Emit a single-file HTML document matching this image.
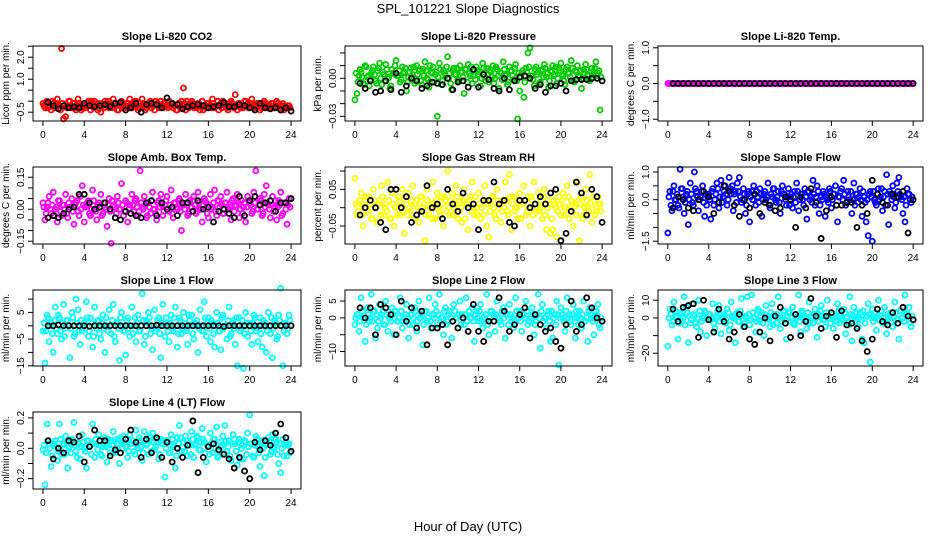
<!DOCTYPE html>
<html><head><meta charset="utf-8"><style>
html,body{margin:0;padding:0;background:#fff;}
svg{display:block;font-family:"Liberation Sans",Arial,sans-serif;}
</style></head><body>
<svg id="chart" width="936" height="540" viewBox="0 0 936 540" xmlns="http://www.w3.org/2000/svg">
<rect width="936" height="540" fill="#fff"/>
<text x="468" y="13" text-anchor="middle" font-size="13">SPL_101221  Slope Diagnostics</text>
<text x="468" y="531" text-anchor="middle" font-size="13">Hour of Day (UTC)</text>
</svg>
<script>
// x axis
const xTickLabels = [0,4,8,12,16,20,24];
const colorStepHours = 0.2;   // hours between colored samples
const blackStepHours = 0.5;   // hours between black samples

const co2Color = [-0.1,-0.3,0.0,-0.2,-0.4,-0.1,-0.2,0.1,-0.3,2.4,-0.8,-0.7,-0.2,0.0,-0.3,-0.1,-0.4,0.1,-0.2,-0.3,
-0.1,-0.2,0.0,-0.4,-0.2,0.0,-0.1,-0.3,-0.5,-0.2,0.0,-0.1,-0.3,-0.2,0.1,-0.2,-0.4,-0.1,0.0,-0.3,
-0.2,-0.1,0.1,-0.3,-0.2,0.0,-0.4,-0.1,0.1,-0.2,-0.3,-0.1,0.0,-0.2,-0.4,-0.1,-0.2,0.0,-0.3,-0.1,
-0.2,0.0,-0.1,-0.3,-0.2,-0.4,-0.1,0.0,0.6,-0.4,-0.2,-0.1,0.0,-0.3,-0.2,-0.1,-0.4,0.0,-0.2,-0.3,
-0.1,-0.2,0.1,-0.3,-0.2,-0.4,-0.1,0.0,-0.2,-0.3,-0.1,0.0,-0.2,0.3,-0.4,-0.1,-0.2,-0.3,0.0,-0.1,
-0.2,0.1,-0.3,-0.2,-0.1,-0.4,-0.2,0.0,-0.1,-0.3,-0.2,-0.1,-0.3,0.0,-0.2,-0.4,-0.1,-0.2,-0.3,-0.2];
const co2ColorB = [-0.2,-0.1,-0.3,-0.2,0.0,-0.3,-0.1,-0.2,-0.4,-0.1,-0.2,-0.3,0.0,-0.2,-0.1,-0.3,-0.2,-0.1,-0.4,-0.2,
-0.3,-0.1,-0.2,0.0,-0.3,-0.2,-0.4,-0.1,-0.2,-0.3,-0.1,0.0,-0.2,-0.3,-0.1,-0.2,-0.4,-0.2,-0.1,-0.3,
-0.1,-0.3,-0.2,-0.1,0.0,-0.2,-0.3,-0.2,-0.1,-0.4,-0.2,-0.1,-0.3,-0.2,0.0,-0.1,-0.3,-0.2,-0.1,-0.2,
-0.3,-0.2,-0.1,-0.2,-0.4,-0.1,-0.3,-0.2,-0.1,0.0,-0.3,-0.2,-0.1,-0.2,-0.3,-0.1,-0.2,-0.4,-0.2,-0.1,
-0.2,-0.3,-0.1,-0.2,0.0,-0.2,-0.3,-0.1,-0.2,-0.4,-0.2,-0.1,-0.3,-0.2,-0.1,-0.3,-0.2,0.0,-0.2,-0.3,
-0.1,-0.2,-0.3,-0.1,-0.2,-0.3,-0.1,-0.2,-0.3,-0.2,-0.1,-0.3,-0.2,-0.1,-0.3,-0.2,-0.4,-0.3,-0.2,-0.3];
const co2Black = [-0.05,-0.2,-0.35,-0.2,-0.3,-0.25,-0.3,-0.1,-0.2,-0.25,-0.2,-0.15,-0.25,-0.1,-0.05,-0.4,-0.3,-0.1,-0.5,-0.15,-0.1,-0.15,-0.3,0.15,-0.1,-0.15,-0.35,-0.25,-0.2,-0.15,-0.2,-0.3,-0.25,-0.2,-0.05,-0.25,-0.25,-0.15,-0.2,-0.3,-0.4,-0.1,-0.3,-0.35,-0.3,-0.4,-0.3,-0.45];

const presColor = [-.017,-.012,.002,.005,-.004,.010,.001,-.006,.004,.009,-.002,.006,.012,-.005,.003,.011,.000,-.008,.007,.004,
.014,.002,-.003,.009,.005,-.010,.001,.008,.003,-.004,.010,.006,-.002,.007,.013,.000,-.007,.005,.009,.003,
-.030,.012,-.005,.006,.002,.017,.004,-.009,.008,.003,-.001,.010,.005,-.012,.007,.011,.002,-.004,.006,.009,
.003,-.006,.012,.001,.008,-.003,.005,.010,.000,.007,-.008,.004,.013,.002,-.005,.009,.006,-.001,.011,-.032,
-.010,.004,-.015,.008,.020,.024,.002,-.006,.009,.005,-.003,.007,.011,.001,-.007,.006,.010,.003,-.004,.008,
.012,.002,-.005,.009,.004,.014,-.002,.006,.010,.001,-.008,.007,.011,.003,-.002,.008,.005,.013,.004,-.025];
const presColorB = [.004,-.003,.007,.001,-.005,.009,.002,-.001,.006,.003,-.004,.008,.000,.005,-.002,.007,.001,-.006,.004,.010,
.002,.006,-.001,.004,.008,-.003,.005,.001,.009,-.002,.003,.007,-.005,.002,.006,-.001,.010,.004,-.003,.005,
.001,.007,-.002,.004,.009,.000,-.004,.006,.003,.008,-.002,.005,.001,.007,-.003,.004,.009,.002,-.001,.006,
.005,.000,.008,-.002,.003,.006,.001,-.004,.009,.002,.005,-.001,.007,.003,-.003,.006,.002,.008,-.002,.004,
.001,.006,-.003,.005,.009,.002,-.001,.007,.003,-.004,.006,.001,.008,.004,-.002,.005,.002,.009,.000,.006,
.003,-.002,.007,.004,.001,.008,-.003,.005,.002,.006,.000,.004,.007,-.001,.005,.003,.008,.002,.006,.001];
const presBlack = [-.004,-.008,-.002,-.011,-.010,-.002,-.009,.004,-.011,-.006,.000,-.002,-.008,-.006,-.003,-.004,-.005,.000,-.009,-.003,-.002,-.007,.007,-.007,.003,-.001,-.008,-.010,.000,-.009,-.002,.001,.002,.000,-.008,-.005,-.011,-.006,-.006,-.004,-.010,-.002,-.001,-.001,-.001,.000,.000,-.002];

const tempColor = [0,0,0,0,0,0,0,0,0,0,0,0,0,0,0,0,0,0,0,0,0,0,0,0,0,0,0,0,0,0,0,0,0,0,0,0,0,0,0,0,
0,0,0,0,0,0,0,0,0,0,0,0,0,0,0,0,0,0,0,0,0,0,0,0,0,0,0,0,0,0,0,0,0,0,0,0,0,0,0,0,
0,0,0,0,0,0,0,0,0,0,0,0,0,0,0,0,0,0,0,0,0,0,0,0,0,0,0,0,0,0,0,0,0,0,0,0,0,0,0,0];
const tempColorB = [0,0,0,0,0,0,0,0,0,0,0,0,0,0,0,0,0,0,0,0,0,0,0,0,0,0,0,0,0,0,0,0,0,0,0,0,0,0,0,0,
0,0,0,0,0,0,0,0,0,0,0,0,0,0,0,0,0,0,0,0,0,0,0,0,0,0,0,0,0,0,0,0,0,0,0,0,0,0,0,0,
0,0,0,0,0,0,0,0,0,0,0,0,0,0,0,0,0,0,0,0,0,0,0,0,0,0,0,0,0,0,0,0,0,0,0,0,0,0,0,0];
const tempBlack = [0,0,0,0,0,0,0,0,0,0,0,0,0,0,0,0,0,0,0,0,0,0,0,0,0,0,0,0,0,0,0,0,0,0,0,0,0,0,0,0,0,0,0,0,0,0,0,0];

const ambColor = [.03,-.05,.01,.06,-.02,.08,.00,-.06,.04,-.03,.02,.07,-.04,.01,.05,-.07,.03,-.01,.06,.11,
-.06,.02,.04,-.03,.09,.00,-.05,.03,.07,-.02,.01,-.08,.05,-.16,.02,-.04,.06,.00,.12,-.03,
.04,-.06,.02,.07,-.01,.05,-.03,.18,.01,.06,-.04,.03,-.02,.08,.00,-.05,.04,.07,-.03,.02,
.06,-.01,.09,-.04,.03,.00,.05,-.10,.02,.07,-.03,.04,.01,.06,-.02,.08,.00,-.06,.05,.03,
-.04,.07,.01,.09,-.03,.04,.06,-.02,.03,.08,.00,-.05,.05,.02,.07,-.04,.04,.01,-.06,.06,
.03,-.02,.08,.18,.00,.05,-.03,.07,.11,.02,-.04,.06,.01,-.05,.04,.08,-.02,.03,-.07,.05];
const ambColorB = [.01,-.02,.03,.00,.02,-.03,.01,.04,-.01,.02,.00,-.02,.03,.01,-.01,.02,.04,-.03,.00,.02,
.01,.03,-.02,.00,.04,-.01,.02,.01,-.03,.03,.00,.02,-.01,.04,.01,-.02,.03,.00,.02,-.01,
.03,.00,-.02,.02,.04,.01,-.01,.03,.00,.02,-.03,.01,.04,.00,-.02,.03,.01,.02,-.01,.04,
.00,.02,-.02,.03,.01,.04,-.01,.02,.00,.03,-.02,.01,.04,.02,-.01,.03,.00,.02,.04,-.02,
.02,.00,.03,-.01,.04,.01,.02,-.02,.03,.00,.01,.04,-.01,.02,.03,.00,-.02,.03,.01,.04,
.02,-.01,.03,.00,.02,.04,-.02,.01,.03,.00,.02,-.01,.04,.01,.02,-.03,.03,.00,.02,.01];
const ambBlack = [-.04,-.03,-.04,-.02,.00,.01,.07,.07,.03,.00,.01,.03,.00,-.04,-.05,-.01,-.02,-.03,-.04,.03,.04,-.03,.03,.00,.01,-.03,.03,.03,-.01,.04,.00,.01,-.06,-.01,.00,-.02,-.04,.06,-.03,.04,.06,.02,.03,.04,-.01,.03,.03,.05];

const rhColor = [.08,-.02,.01,.04,-.05,.02,-.01,.03,-.03,.05,.00,-.04,.02,.06,-.02,.01,.07,-.03,.04,-.05,
.00,.03,-.02,.05,-.07,.01,.04,-.01,.06,-.03,.02,-.04,.03,.00,-.09,.05,-.02,.01,.07,-.03,
.04,-.01,.03,-.05,.02,.10,-.02,.04,.00,.06,-.03,.02,-.04,.05,.01,-.06,.03,.07,-.02,.00,
.04,-.03,.02,.06,-.05,-.08,.01,.03,-.02,.05,.00,-.04,.02,.07,-.01,.09,-.06,.03,.00,-.03,
.04,.01,.06,-.02,.03,-.05,.02,.07,-.01,.04,.00,-.03,.05,-.06,.02,-.07,-.06,.01,-.08,.03,
-.02,.04,.00,.06,-.03,.02,-.05,.01,.07,-.09,.03,-.02,.05,.00,.09,-.04,.02,-.01,.03,.01];
const rhColorB = [.01,-.01,.02,-.02,.00,.03,-.01,.01,-.03,.02,.00,.01,-.02,.03,.00,-.01,.02,-.03,.01,.00,
-.02,.02,.01,-.01,.03,-.02,.00,.02,-.03,.01,.00,-.01,.03,.01,-.02,.02,.00,-.03,.01,.02,
.00,-.02,.01,.03,-.01,.00,.02,-.02,.01,.03,-.01,.00,.02,-.03,.01,.02,-.01,.00,.03,-.02,
.01,.00,-.02,.02,.01,-.01,.03,.00,-.03,.02,.01,-.01,.00,.02,-.02,.03,.01,-.01,.00,.02,
-.03,.01,.02,-.01,.00,.03,-.02,.01,.00,-.01,.02,.03,-.02,.00,.01,-.03,.02,.00,-.01,.01,
.02,-.02,.00,.03,-.01,.01,.00,-.02,.02,.01,-.03,.00,.02,-.01,.01,.03,-.02,.00,.01,-.01];
const rhBlack = [-.02,.00,.02,.00,-.04,-.06,.05,.05,.00,.03,-.04,-.02,-.01,.06,.00,.01,-.03,.05,.01,-.01,.04,.00,.01,-.06,.02,.02,.07,.01,.02,-.04,-.05,.02,.02,.00,.01,.03,.01,.04,.05,-.09,-.07,-.01,.07,.04,-.02,.05,.03,-.04];

const sampleColor = [-1.2,0.3,-0.4,0.5,0.0,-0.2,1.1,0.4,-0.5,0.2,-0.9,0.6,-0.1,1.0,0.3,-0.4,0.1,0.5,-0.6,-0.2,
0.2,-0.7,0.4,0.0,0.6,-0.3,0.7,0.1,0.5,-0.2,0.8,0.2,-0.4,0.3,0.6,0.8,-0.1,0.4,-0.5,0.2,
-0.8,0.3,0.5,-0.2,0.1,0.4,-0.6,0.2,0.0,0.6,-0.3,0.1,0.4,-0.1,0.3,-0.5,0.5,0.2,-0.2,0.4,
0.1,-0.3,0.3,0.6,-0.4,0.2,0.0,0.4,-0.7,0.3,0.1,0.7,-0.2,0.5,-0.5,0.1,0.3,-0.6,0.0,0.4,
-0.3,0.2,0.5,-0.8,0.1,0.4,0.7,-0.2,0.3,0.0,-0.5,0.6,0.2,-0.1,0.4,-0.6,0.1,-0.8,-1.3,0.3,
-1.5,0.0,-0.2,0.4,0.1,-0.4,0.3,0.9,-0.9,0.2,0.5,-0.3,0.6,0.8,0.1,-0.5,-0.8,0.4,0.2,-0.1];
const sampleColorB = [0.1,-0.2,0.3,0.0,0.2,-0.3,0.4,0.1,-0.1,0.3,0.0,0.2,-0.2,0.4,0.1,0.0,0.3,-0.1,0.2,0.1,
0.0,0.3,-0.2,0.2,0.4,0.1,-0.1,0.3,0.2,0.0,0.4,0.5,0.2,-0.1,0.3,0.1,0.0,0.2,-0.2,0.3,
0.1,0.0,0.2,0.3,-0.1,0.2,0.0,0.3,0.1,-0.2,0.2,0.4,0.0,0.1,-0.1,0.3,0.2,0.0,0.1,-0.2,
0.2,0.1,-0.1,0.3,0.0,0.2,-0.2,0.1,0.3,0.0,-0.1,0.2,0.1,0.3,-0.2,0.0,0.2,0.1,-0.1,0.3,
0.0,0.2,-0.2,0.1,0.3,0.0,0.2,-0.1,0.1,0.3,0.0,-0.2,0.2,0.1,0.0,0.3,-0.1,0.0,0.2,0.1,
0.3,-0.1,0.2,0.0,0.4,0.1,-0.2,0.2,0.3,0.0,0.1,-0.1,0.3,0.2,0.0,0.1,-0.2,0.2,0.0,0.1];
const sampleBlack = [-0.3,0.1,0.0,-0.3,-0.4,0.0,0.3,0.1,-0.5,-0.1,0.5,0.3,-0.2,-0.6,0.0,-0.3,0.2,-0.5,-0.1,-0.2,-0.4,-0.3,0.1,0.0,-1.0,0.1,-0.3,0.4,-0.1,-1.4,-0.4,0.1,-0.2,-0.2,-0.1,-0.1,-1.0,-0.2,-0.5,0.7,0.2,-0.1,-0.2,0.2,0.1,0.3,-1.2,0.0];

const line1Color = [-2,-14,4,-6,1,-10,7,-3,3,-5,8,-1,2,-12,5,-4,10,6,-7,-2,
1,9,-4,3,-8,7,-1,2,-5,4,-10,0,6,-3,8,-6,1,-13,5,-2,
-11,3,-4,7,0,-6,4,-2,12,-7,2,5,-3,-9,6,-1,3,-12,8,-4,
1,-6,4,-2,7,-8,3,-3,5,-1,-7,2,4,-5,0,-10,6,-2,9,-4,
3,-6,1,-8,5,-2,-9,4,0,-5,7,-3,2,-7,-15,3,-1,-16,5,-4,
1,-7,4,-2,-6,3,-8,0,-10,5,-3,-12,2,-5,4,14,-15,1,-3,4];
const line1ColorB = [1,-2,3,0,-3,2,-1,4,-2,1,-4,2,0,-1,3,-3,1,-2,2,0,
-1,3,-2,1,-4,0,2,-3,1,-1,3,-2,0,2,-4,1,-1,3,0,-2,
2,-1,0,-3,3,1,-2,0,2,-4,1,3,-1,0,-2,2,-3,1,0,3,
-2,1,-1,3,0,-3,2,-1,1,-2,4,0,-3,1,2,-1,0,-2,3,1,
-1,2,-3,0,1,-2,3,-1,0,2,-4,1,-1,3,0,-2,2,-3,1,0,
-2,1,3,-1,0,-3,2,1,-2,0,3,-1,1,-4,2,0,-2,1,-1,2];
const line1Black = [0,0,0.3,0,0,0,0,0,-0.2,0,0,0,0,0,0,0,0,0,0,0,0,0.2,0,0,0,0,0,0,0,0,0,0,0,0,-0.3,0,0,0,0,0,0,0,0,0,0,0,0,0];

const line2Color = [-2,1,-4,6,0,-7,3,-1,7,2,-6,-3,4,1,-2,5,-4,0,3,-5,
2,-1,6,-3,0,4,-6,1,-2,3,-4,5,0,-8,2,-1,6,-3,1,4,
-2,7,0,-5,3,-1,2,-6,4,0,-3,5,1,-2,6,-4,0,3,-7,2,
-1,4,-3,0,7,-5,2,1,-4,5,0,-2,3,-6,1,4,-1,-3,6,0,
2,-4,1,5,-2,0,3,-5,-1,7,-9,4,0,-3,2,-7,-6,1,5,-14,
3,0,-4,6,1,-2,4,-6,0,2,-3,5,-1,-7,3,0,-5,2,4,-3];
const line2ColorB = [0,1,-1,2,0,-2,1,0,-1,2,1,-1,0,2,-2,1,0,-1,1,2,
-1,0,2,-1,1,0,-2,1,0,2,-1,0,1,-2,2,0,-1,1,0,2,
1,-1,0,2,-2,1,0,-1,2,0,1,-2,0,1,-1,2,0,-1,1,0,
2,-1,0,1,-2,0,2,-1,1,0,-1,2,0,1,-2,1,0,-1,2,0,
-1,1,0,2,-1,0,1,-2,1,0,2,-1,0,1,-1,2,0,-2,1,0,
1,-1,2,0,-1,1,0,2,-2,0,1,-1,0,2,1,-1,0,1,-2,0];
const line2Black = [3,0,3,-5,4,3,1,-5,5,-1,3,-3,2,-8,-3,-3,-2,-8,-1,-3,0,-4,4,-4,-7,-1,-1,6,2,-4,-2,1,3,-6,1,-2,-4,-3,-7,-9,-2,5,-4,-2,6,3,0,-1];

const line3Color = [-16,5,-4,9,0,-12,3,-2,12,6,-14,-3,8,1,-5,10,-8,0,4,-10,
2,-1,8,-6,0,7,-9,1,-3,5,-7,9,0,-14,3,-2,11,-5,1,12,
-4,13,0,-8,5,-2,3,-10,7,0,-5,8,2,-3,12,-6,0,4,-12,3,
-2,6,-4,0,13,-8,3,1,-6,9,0,-3,5,-11,2,7,-1,-5,10,0,
3,-6,1,8,-3,0,5,-9,-2,12,-13,6,0,-5,3,-12,-14,1,8,-25,
5,0,-7,10,1,-3,6,-9,0,3,-5,9,-1,-12,4,0,13,3,6,-5];
const line3ColorB = [0,2,-2,4,1,-3,2,0,-4,3,1,-1,2,-3,0,4,-2,1,3,-1,
2,0,-3,1,4,-2,0,2,-1,3,-4,1,0,2,-2,4,1,-3,0,2,
-1,3,0,-2,4,1,-3,2,0,-1,3,-4,1,2,0,-2,4,-1,1,3,
0,-3,2,1,-2,4,0,-1,3,-3,1,2,0,-2,4,1,-1,3,0,-3,
2,0,-2,4,1,-1,3,0,-4,2,1,-2,3,0,-1,4,-3,1,2,0,
-2,3,1,-1,4,0,-3,2,1,-2,0,3,-1,4,0,-2,2,1,-3,1];
const line3Black = [5,-2,6,7,8,-11,10,-1,-8,5,-2,-12,-8,2,-5,-12,-15,-8,0,-13,1,6,-3,-11,2,-10,-2,11,1,-6,1,3,-11,4,-4,-3,-6,-13,-19,-12,5,-2,-4,3,-3,6,1,-1];

const line4Color = [-.01,-.24,.16,.03,-.12,.02,.05,-.08,.16,-.04,.03,.08,-.13,.01,.06,.17,-.02,.04,-.07,.09,
.00,-.13,.05,.02,.16,-.06,.03,.09,-.04,.01,.07,-.09,.02,.05,.11,-.03,.06,-.10,.04,.08,
.01,-.06,.09,.03,-.02,.12,.00,.05,-.08,.11,.02,-.04,.07,.10,-.01,.04,-.07,.06,.03,-.19,
.05,-.03,.09,.01,-.13,.07,.15,-.02,.04,.08,-.05,.02,.11,-.06,.03,.07,-.01,.13,.04,-.09,
.02,.10,-.03,.06,.14,-.05,.01,.08,.15,-.02,.05,-.08,.09,.03,-.11,.06,.00,-.07,.04,.10,
.22,.03,-.06,.08,.01,-.12,.05,-.18,.02,.07,-.04,.09,.00,.04,-.10,-.16,.06,.02,-.05,.03];
const line4ColorB = [.02,-.03,.05,.00,-.05,.03,.01,-.02,.06,.02,-.04,.04,.00,-.03,.05,.02,-.06,.03,.01,.04,
-.02,.05,.01,-.04,.03,.06,-.01,.02,-.05,.04,.01,.06,-.03,.02,.05,-.02,.03,.07,.00,.04,
.06,-.02,.03,.05,-.04,.02,.07,.01,-.03,.05,.03,.08,-.02,.04,.01,.06,-.04,.03,.05,.00,
.04,-.03,.06,.02,-.05,.03,.07,.01,-.02,.05,.03,-.04,.06,.02,.08,-.01,.04,.06,-.03,.02,
-.04,.03,.06,.00,-.06,.04,.02,-.03,.05,.01,-.05,.03,.06,-.02,.04,-.07,.02,.05,-.04,.01,
.03,-.05,.02,.06,-.03,.04,.00,-.06,.03,.05,-.02,.01,.06,-.04,.03,.00,-.05,.04,.02,-.03];
const line4Black = [.05,-.07,.00,-.03,.05,.04,.08,-.09,.01,.12,.05,.05,-.05,-.01,-.03,.06,.12,.04,-.06,.06,-.03,.07,-.06,.04,-.09,.00,-.06,.02,.18,-.16,-.06,.01,.03,-.01,-.04,-.07,-.13,-.06,-.15,-.20,.04,-.01,.05,.02,.10,.16,.07,-.02];

// panel titles / y labels / y ticks
const panelTitles = ["Slope Li-820 CO2","Slope Li-820 Pressure","Slope Li-820 Temp.","Slope Amb. Box Temp.","Slope Gas Stream RH","Slope Sample Flow","Slope Line 1 Flow","Slope Line 2 Flow","Slope Line 3 Flow","Slope Line 4 (LT) Flow"];
const yAxisTitles = ["Licor ppm per min.","kPa per min.","degrees C per min.","degrees C per min.","percent per min.","ml/min per min.","ml/min per min.","ml/min per min.","ml/min per min.","ml/min per min."];
const yTicks = [[-0.5,0,0.5,1,1.5,2,2.5],[-0.03,-0.02,-0.01,0,0.01,0.02],[-1,-0.5,0,0.5,1],[-0.15,-0.1,-0.05,0,0.05,0.1,0.15],[-0.05,0,0.05,0.1],[-1.5,-1,-0.5,0,0.5,1],[-15,-10,-5,0,5,10],[-10,-5,0,5],[-20,-10,0,10],[-0.2,-0.1,0,0.1,0.2]];
const yTickLabelValues = [[-0.5,1,2],[-0.03,0],[-1,0,1],[-0.15,0,0.15],[-0.05,0.05],[-1.5,0,1],[-15,-5,5],[-10,0,5],[-20,0,10],[-0.2,0,0.2]];
const yTickLabelText = [["\u22120.5","1.0","2.0"],["\u22120.03","0.00"],["\u22121.0","0.0","1.0"],["\u22120.15","0.00","0.15"],["\u22120.05","0.05"],["\u22121.5","0.0","1.0"],["\u221215","\u22125","5"],["\u221210","0","5"],["\u221220","0","10"],["\u22120.2","0.0","0.2"]];
const yDomains = [[-0.9,2.51],[-0.0337,0.0255],[-1.05,1.05],[-0.163,0.198],[-0.099,0.111],[-1.6,1.18],[-15.1,13.4],[-14.3,8.3],[-27.2,15.8],[-0.268,0.239]];
const colorSeries = [co2Color,presColor,tempColor,ambColor,rhColor,sampleColor,line1Color,line2Color,line3Color,line4Color];
const colorSeriesB = [co2ColorB,presColorB,tempColorB,ambColorB,rhColorB,sampleColorB,line1ColorB,line2ColorB,line3ColorB,line4ColorB];
const blackSeries = [co2Black,presBlack,tempBlack,ambBlack,rhBlack,sampleBlack,line1Black,line2Black,line3Black,line4Black];
const seriesColors = ["#ff0000","#00cd00","#ff00ff","#ff00ff","#ffff00","#0000ff","#00ffff","#00ffff","#00ffff","#00ffff"];

const NS="http://www.w3.org/2000/svg";
const svg=document.getElementById('chart');
const colBox=[[33,301],[345,612],[658,923]];
const rowBox=[[46,121],[167,244],[290,366],[412,489]];
const xDomain=[-0.96,24.96];
function mk(tag,attrs,parent){const e=document.createElementNS(NS,tag);for(const k in attrs)e.setAttribute(k,attrs[k]);(parent||svg).appendChild(e);return e;}

panelTitles.forEach((title,p)=>{
  const col=p%3,row=Math.floor(p/3);
  const [L,R]=colBox[col],[T,B]=rowBox[row];
  const xs=v=>L+(v-xDomain[0])/(xDomain[1]-xDomain[0])*(R-L);
  const [y0,y1]=yDomains[p];
  const ys=v=>B-(v-y0)/(y1-y0)*(B-T);
  const g=mk('g',{});
  
  
  // points
  const pts=mk('g',{fill:'none','stroke-width':1.8},g);
  
  
  colorSeriesB[p].forEach((v,i)=>{
    const c=mk('circle',{cx:xs(i*colorStepHours+colorStepHours/2),cy:ys(v),r:2.5,stroke:seriesColors[p]},pts);
    
    
  });
  colorSeries[p].forEach((v,i)=>{
    const c=mk('circle',{cx:xs(i*colorStepHours),cy:ys(v),r:2.5,stroke:seriesColors[p]},pts);
    
    
  });
  const bpts=mk('g',{fill:'none','stroke-width':1.8,stroke:'#000'},g);
  
  
  blackSeries[p].forEach((v,i)=>{
    const c=mk('circle',{cx:xs((i+1)*blackStepHours),cy:ys(v),r:2.5},bpts);
    
    
  });
  // box
  const box=mk('rect',{x:L,y:T,width:R-L,height:B-T,fill:'none',stroke:'#000','stroke-width':1},g);
  
  
  // title
  const t=mk('text',{x:(L+R)/2,y:T-6,'text-anchor':'middle','font-size':11,'font-weight':'bold'},g);
  t.textContent=title;
  
  
  // x axis
  const xa=mk('g',{stroke:'#000','stroke-width':1},g);
  
  
  mk('line',{x1:xs(xTickLabels[0]),x2:xs(xTickLabels[xTickLabels.length-1]),y1:B,y2:B},xa);
  xTickLabels.forEach(v=>{
    mk('line',{x1:xs(v),x2:xs(v),y1:B,y2:B+5},xa);
    const tl=mk('text',{x:xs(v),y:B+17,'text-anchor':'middle','font-size':10,stroke:'none',fill:'#000'},g);
    tl.textContent=v;
    
    
  });
  // y axis
  const ya=mk('g',{stroke:'#000','stroke-width':1},g);
  
  
  const tk=yTicks[p];
  mk('line',{x1:L,x2:L,y1:ys(tk[0]),y2:ys(tk[tk.length-1])},ya);
  tk.forEach(v=>mk('line',{x1:L-5,x2:L,y1:ys(v),y2:ys(v)},ya));
  yTickLabelValues[p].forEach((v,i)=>{
    const yy=ys(v),xx=L-9;
    const tl=mk('text',{x:xx,y:yy,'text-anchor':'middle','font-size':10,transform:`rotate(-90 ${xx} ${yy})`},g);
    tl.textContent=yTickLabelText[p][i];
    
    
  });
  const yx=L-24,yy=(T+B)/2;
  const yl=mk('text',{x:yx,y:yy,'text-anchor':'middle','font-size':10,transform:`rotate(-90 ${yx} ${yy})`},g);
  yl.textContent=yAxisTitles[p];
  
  
});
</script>
</body></html>
